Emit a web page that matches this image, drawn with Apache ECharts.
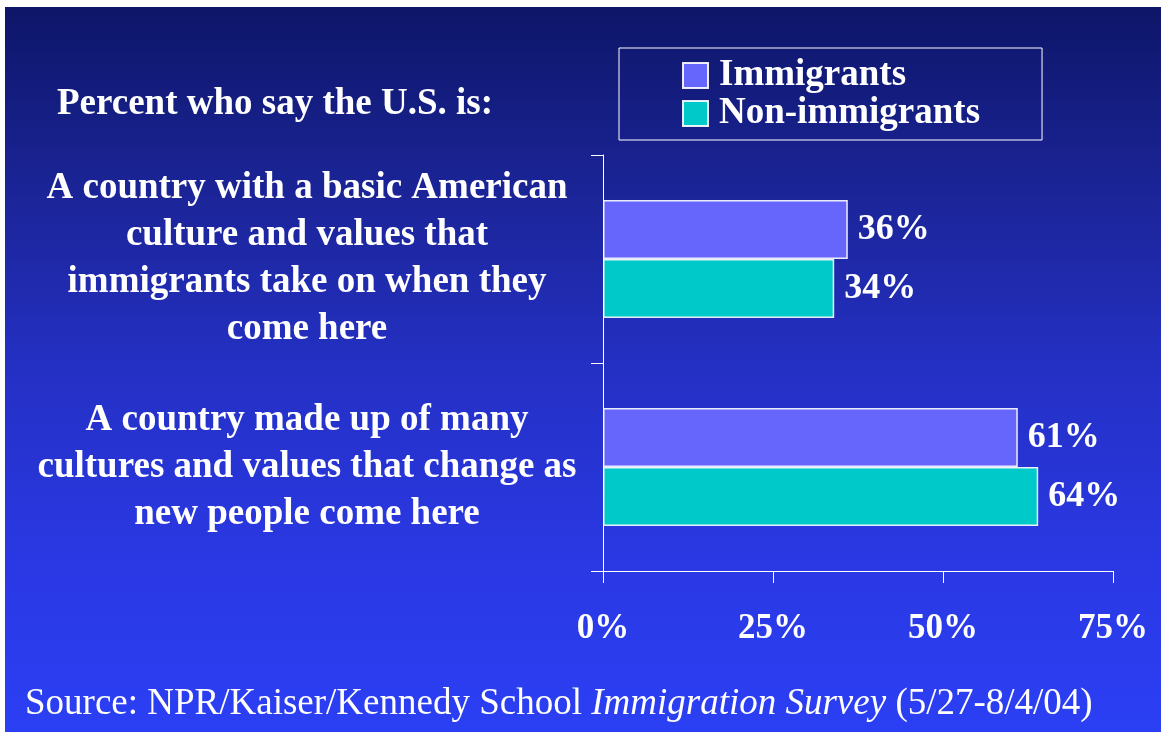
<!DOCTYPE html>
<html lang="en">
<head>
    <meta charset="UTF-8">
    <title>Immigration Survey</title>
    <script src="https://cdn.jsdelivr.net/npm/echarts@6/dist/echarts.min.js"></script>
    <style>
        html, body {
            margin: 0;
            padding: 0;
            background: #fff;
        }
        #box {
            position: absolute;
            left: 5px;
            top: 7px;
            width: 1156px;
            height: 725px;
        }
    </style>
</head>
<body>
<div id="box"></div>
<script>
    // data
    var categories = [
        'A country with a basic American\nculture and values that\nimmigrants take on when they\ncome here',
        'A country made up of many\ncultures and values that change as\nnew people come here'
    ];
    var seriesNames = ['Immigrants', 'Non-immigrants'];
    var immigrants = [36, 61];
    var nonImmigrants = [34, 64];
    var xTicks = [0, 25, 50, 75];

    var serif = "'Times New Roman', 'Liberation Serif', serif";

    var myChart = echarts.init(document.getElementById('box'));
    var option = {
        backgroundColor: new echarts.graphic.LinearGradient(0, 0, 0, 1, [
            {offset: 0, color: '#0d1668'},
            {offset: 0.25, color: '#1b2496'},
            {offset: 0.5, color: '#2430c4'},
            {offset: 0.75, color: '#2a38e2'},
            {offset: 1, color: '#2b3ff4'}
        ]),
        animation: false,
        title: [
            {
                text: 'Percent who say the U.S. is:',
                left: 52,
                top: 79,
                padding: 0,
                textStyle: {
                    color: '#fff',
                    fontFamily: serif,
                    fontWeight: 'bold',
                    fontSize: 37
                }
            },
            {
                // source line, title italic
                text: '{n|Source: NPR/Kaiser/Kennedy School }{i|Immigration Survey}{n| (5/27-8/4/04)}',
                left: 20,
                top: 679,
                padding: 0,
                textStyle: {
                    rich: {
                        n: {color: '#fff', fontFamily: serif, fontSize: 37, fontWeight: 'normal'},
                        i: {color: '#fff', fontFamily: serif, fontSize: 37, fontWeight: 'normal', fontStyle: 'italic'}
                    }
                }
            }
        ],
        legend: {
            data: seriesNames,
            orient: 'vertical',
            left: 614,
            top: 41,
            icon: 'rect',
            itemWidth: 25,
            itemHeight: 25,
            itemGap: 1,
            padding: [9, 62, 8, 63],
            borderColor: '#fff',
            borderWidth: 1,
            textStyle: {
                color: '#fff',
                fontFamily: serif,
                fontWeight: 'bold',
                fontSize: 37,
                padding: [0, 0, 0, 6]
            }
        },
        grid: {
            left: 598,
            right: 48,
            top: 148,
            bottom: 161
        },
        xAxis: {
            type: 'value',
            min: xTicks[0],
            max: xTicks[xTicks.length - 1],
            interval: 25,
            splitLine: {show: false},
            axisLine: {show: true, lineStyle: {color: '#fff', width: 1}},
            axisTick: {show: true, length: 12, lineStyle: {color: '#fff'}},
            axisLabel: {
                color: '#fff',
                fontFamily: serif,
                fontWeight: 'bold',
                fontSize: 35,
                margin: 40,
                formatter: '{value}%'
            }
        },
        yAxis: {
            type: 'category',
            inverse: true,
            data: categories,
            axisLine: {show: true, lineStyle: {color: '#fff', width: 1}},
            axisTick: {show: true, length: 12, lineStyle: {color: '#fff'}},
            axisLabel: {
                color: '#fff',
                fontFamily: serif,
                fontWeight: 'bold',
                fontSize: 37,
                lineHeight: 47,
                align: 'center',
                margin: 296
            }
        },
        series: [
            {
                name: seriesNames[0],
                type: 'bar',
                data: immigrants,
                barWidth: 59,
                barGap: '0%',
                itemStyle: {color: '#6666fc', borderColor: 'rgba(255,255,255,0.9)', borderWidth: 1.5},
                label: {
                    show: true,
                    position: 'right',
                    distance: 10,
                    formatter: '{c}%',
                    color: '#fff',
                    fontFamily: serif,
                    fontWeight: 'bold',
                    fontSize: 36
                }
            },
            {
                name: seriesNames[1],
                type: 'bar',
                data: nonImmigrants,
                barWidth: 59,
                barGap: '0%',
                itemStyle: {color: '#00c9c9', borderColor: 'rgba(255,255,255,0.9)', borderWidth: 1.5},
                label: {
                    show: true,
                    position: 'right',
                    distance: 10,
                    formatter: '{c}%',
                    color: '#fff',
                    fontFamily: serif,
                    fontWeight: 'bold',
                    fontSize: 36
                }
            }
        ]
    };
    myChart.setOption(option);
    window.addEventListener('resize', myChart.resize);
</script>
</body>
</html>
